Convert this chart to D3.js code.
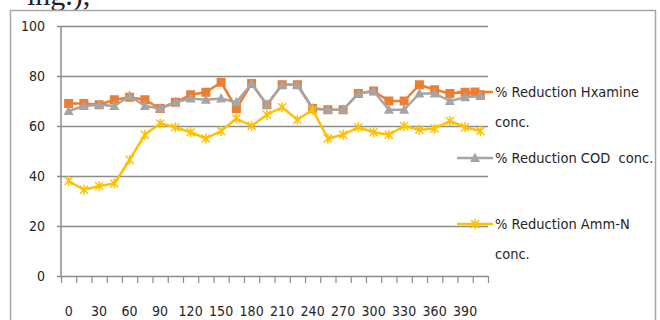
<!DOCTYPE html>
<html><head><meta charset="utf-8">
<script src="https://cdn.jsdelivr.net/npm/d3@7"></script>
<style>
html,body{margin:0;padding:0;background:#fff;}
svg{display:block;}
text{font-family:"DejaVu Sans Condensed","DejaVu Sans",sans-serif;font-stretch:condensed;fill:#262626;}
</style></head><body>
<svg id="chart" width="660" height="320"></svg>
<script>
// ---- data ----
const minutes = [0,15,30,45,60,75,90,105,120,135,150,165,180,195,210,225,240,255,270,285,300,315,330,345,360,375,390,405];
const tickLabels = ["0","30","60","90","120","150","180","210","240","270","300","330","360","390"];
const hxamine = [69,69,68.5,70.5,71.5,70.5,67,69.5,72.5,73.5,77.5,67,77,68.5,76.5,76.5,67,66.5,66.5,73,74,70,70,76.5,74.5,73,73.5,72.5];
const cod     = [66,68,68.5,68,72,68,67,69.5,71,70.5,71,69.5,77,68.5,76.5,76.5,67,66.5,66.5,73,74,66.5,66.5,73,73,70,71.5,72];
const ammN    = [38,34.5,36,37,46.5,56.5,61,59.5,57.5,55,58,63,60,64.5,67.5,62.5,66.5,55,56.5,59.5,57.5,56.5,60,58.5,59,62,59.5,58];
const yTicks = [0,20,40,60,80,100];
const seriesNames = [["% Reduction Hxamine","conc."],["% Reduction COD  conc."],["% Reduction Amm-N","conc."]];

const svg = d3.select("#chart");

// frame and cut-off caption fragment
svg.append("text").attr("x",27).attr("y",5)
  .style("font-family","'Liberation Serif',serif").style("font-stretch","normal")
  .style("font-size","30px").style("fill","#222").text("ing.),");
svg.append("rect").attr("x",10.5).attr("y",10.5).attr("width",645).attr("height",330)
  .attr("fill","none").attr("stroke","#a6a6a6").attr("stroke-width",1.5);

const x = d3.scaleBand().domain(minutes).range([61,488]).padding(0);
const xi = d3.scaleLinear().domain([0,minutes.length]).range([61,488]);
const y = d3.scaleLinear().domain([0,100]).range([276,26]);
const cx = m => x(m) + x.bandwidth()/2;

// gridlines
const yAxis = d3.axisLeft(y).tickValues(yTicks).tickSize(-(488-57)).tickPadding(11)
  .tickFormat(d3.format("d"));
const gy = svg.append("g").attr("transform","translate(57,0)").call(yAxis);
gy.select(".domain").remove();
gy.selectAll(".tick line").attr("stroke","#8c8c8c").attr("stroke-width",1.5).attr("x1",0).attr("x2",488-57);
gy.selectAll(".tick text").style("font-size","14px").attr("x",-12).attr("dy","0.35em");

// y axis line
svg.append("line").attr("x1",61).attr("x2",61).attr("y1",y(100)).attr("y2",y(0))
  .attr("stroke","#8c8c8c").attr("stroke-width",1.5);

// x axis tick marks at band edges
const gxt = svg.append("g").attr("transform",`translate(0,${y(0)})`)
  .call(d3.axisBottom(xi).tickValues(d3.range(minutes.length+1)).tickSize(7).tickFormat(""));
gxt.select(".domain").remove();
gxt.selectAll(".tick line").attr("stroke","#8c8c8c").attr("stroke-width",1.2);

// x labels
const labelSet = new Set(tickLabels);
const gx = svg.append("g").attr("transform",`translate(0,${y(0)})`)
  .call(d3.axisBottom(x).tickSize(0).tickPadding(30).tickFormat(d => labelSet.has(String(d)) ? String(d) : ""));
gx.select(".domain").remove();
gx.selectAll(".tick text").style("font-size","14px");

// series
const line = d3.line().x((d,i)=>cx(minutes[i])).y(d=>y(d));
const cols = ["#ED7D31","#A5A5A5","#FFC000"];
const data = [hxamine, cod, ammN];

function marker(g, type, color){
  if(type===0){
    g.append("rect").attr("x",-4.5).attr("y",-4.5).attr("width",9).attr("height",9).attr("fill",color);
  } else if(type===1){
    g.append("path").attr("d","M0,-5.5L5,4L-5,4Z").attr("fill",color);
  } else {
    g.append("path").attr("d","M-4,-4L4,4M-4,4L4,-4M0,-5L0,5").attr("stroke",color).attr("stroke-width",1.5).attr("fill","none");
  }
}

// legend
const legY = [[92,122],[158],[224,254]];
data.forEach((vals,s)=>{
  svg.append("line").attr("x1",457).attr("x2",493).attr("y1",legY[s][0]).attr("y2",legY[s][0])
    .attr("stroke",cols[s]).attr("stroke-width",2.5);
  marker(svg.append("g").attr("transform",`translate(475,${legY[s][0]})`), s, cols[s]);
  seriesNames[s].forEach((t,k)=>{
    svg.append("text").attr("x", k===0?495:495).attr("y",legY[s][k]).attr("dy","0.35em")
      .style("font-size","14.5px").style("white-space","pre").attr("xml:space","preserve").text(t);
  });
});

data.forEach((vals,s)=>{
  svg.append("path").datum(vals).attr("d",line).attr("fill","none")
    .attr("stroke",cols[s]).attr("stroke-width",2.5).attr("stroke-linejoin","round");
  vals.forEach((v,i)=>{
    marker(svg.append("g").attr("transform",`translate(${cx(minutes[i])},${y(v)})`), s, cols[s]);
  });
});
</script>
</body></html>
